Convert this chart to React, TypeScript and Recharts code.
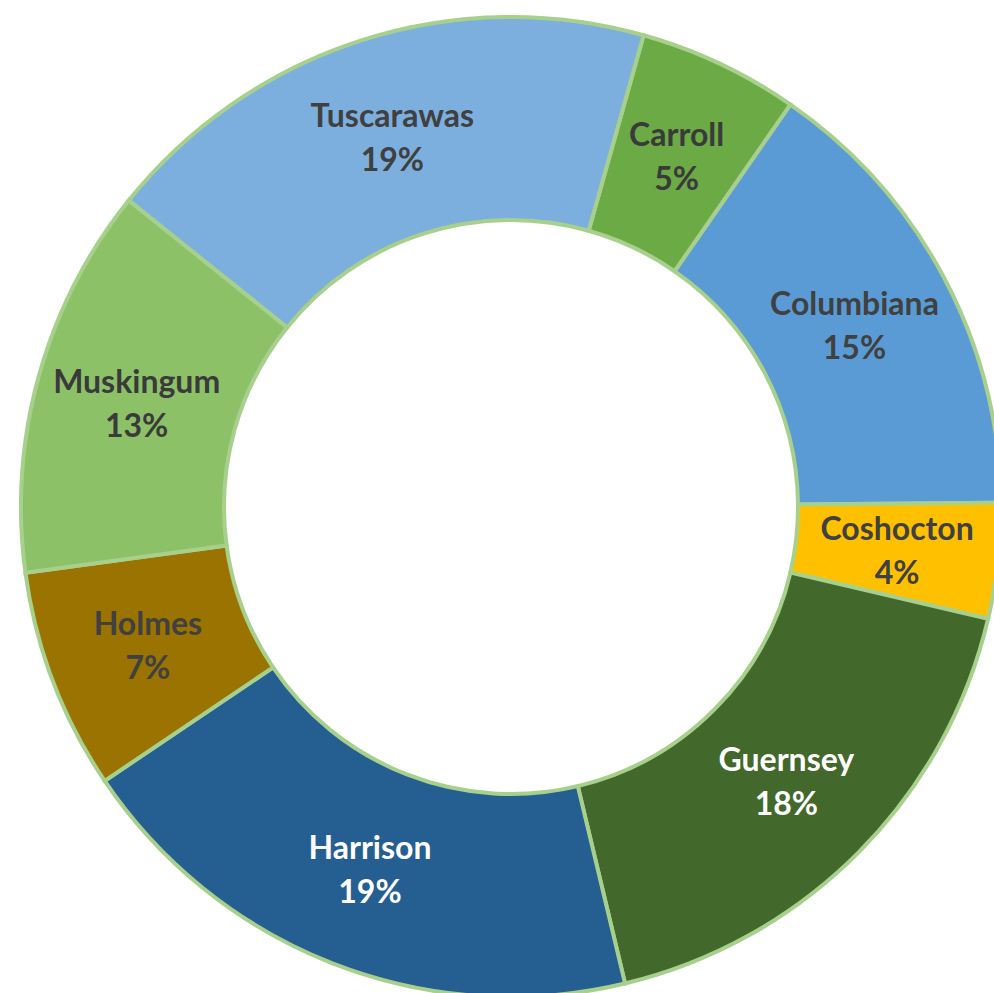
import React from "react";
import { PieChart, Pie, Cell } from "recharts";

const counties = ["Carroll", "Columbiana", "Coshocton", "Guernsey", "Harrison", "Holmes", "Muskingum", "Tuscarawas"];
const shares = [5.3, 15.2, 3.8, 17.6, 19.3, 7.3, 12.9, 18.6];
const sliceColors = ["#6BAA45", "#5B9BD5", "#FFC000", "#43682B", "#255E91", "#9A7300", "#8CC168", "#7CAFDD"];
const labelColors = ["#3A3A3A", "#404040", "#404040", "#FFFFFF", "#FFFFFF", "#404040", "#3A3A3A", "#404040"];

const data = counties.map((name, i) => ({ name, value: shares[i] }));
const total = shares.reduce((a, b) => a + b, 0);

const RAD = Math.PI / 180;

const renderLabel = (props: any) => {
  const { cx, cy, midAngle, innerRadius, outerRadius, index, value } = props;
  const r = (innerRadius + outerRadius) / 2;
  const x = cx + r * Math.cos(-midAngle * RAD);
  const y = cy + r * Math.sin(-midAngle * RAD);
  const pct = Math.round((value / total) * 100);
  return (
    <text
      x={x}
      y={y}
      textAnchor="middle"
      fill={labelColors[index]}
      style={{ fontFamily: "Lato, 'Open Sans', sans-serif", fontWeight: 700, fontSize: 32 }}
    >
      <tspan x={x} y={y - 10}>{counties[index]}</tspan>
      <tspan x={x} y={y + 34}>{pct}%</tspan>
    </text>
  );
};

export default function App() {
  return (
    <div style={{ position: "fixed", left: 0, top: 0, width: 994, height: 993, background: "#fff" }}>
      <PieChart width={994} height={993}>
        <Pie
          data={data}
          dataKey="value"
          nameKey="name"
          cx={506}
          cy={502}
          innerRadius={287}
          outerRadius={490}
          startAngle={74.3}
          endAngle={-285.7}
          label={renderLabel}
          labelLine={false}
          isAnimationActive={false}
          stroke="#A8D08D"
          strokeWidth={4}
        >
          {data.map((d, i) => (
            <Cell key={d.name} fill={sliceColors[i]} stroke="#A8D08D" strokeWidth={4} />
          ))}
        </Pie>
      </PieChart>
    </div>
  );
}
